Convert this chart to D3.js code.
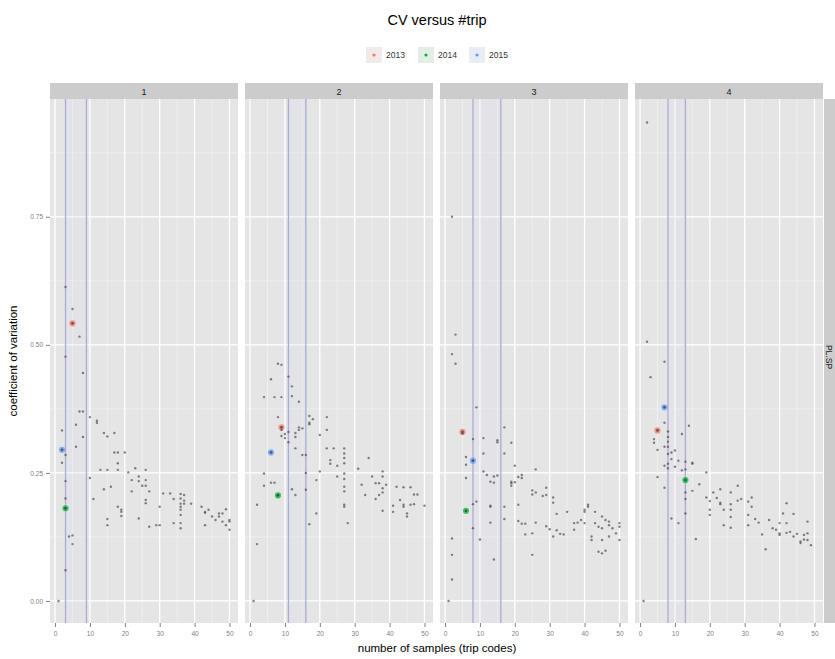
<!DOCTYPE html>
<html><head><meta charset="utf-8">
<script src="https://cdn.jsdelivr.net/npm/d3@7"></script>
<style>body{margin:0;background:#fff;}svg{display:block;font-family:"Liberation Sans",Arial,sans-serif;}</style>
</head><body>
<script>
// ---- DATA ----
const trips = ["1", "2", "3", "4"];
const years = ["2013", "2014", "2015"];
const yearColors = ["#F8766D", "#00BA38", "#619CFF"];
const xTicks = [0, 10, 20, 30, 40, 50];
const yTicks = [0, 0.25, 0.5, 0.75];
const facetRight = "PL.SP";

const pts1 = [[1,0.0],[3,0.06],[3,0.613],[5,0.57],[7,0.516],[3,0.477],[8,0.445],[7,0.37],[8,0.37],[10,0.359],[6,0.344],[12,0.348],[12,0.352],[2,0.333],[14,0.328],[15,0.321],[17,0.328],[8,0.32],[6,0.301],[3,0.285],[17,0.29],[18,0.29],[20,0.29],[18,0.269],[3,0.234],[10,0.24],[13,0.256],[15,0.256],[18,0.256],[21,0.251],[23,0.259],[26,0.256],[22,0.236],[24,0.243],[24,0.234],[14,0.218],[16,0.223],[26,0.236],[26,0.225],[25,0.225],[22,0.214],[27,0.214],[31,0.21],[33,0.21],[11,0.199],[26,0.197],[26,0.191],[34,0.199],[30,0.184],[36,0.209],[36,0.2],[37,0.196],[36,0.19],[37,0.19],[36,0.184],[36,0.178],[36,0.168],[37,0.207],[39,0.19],[18,0.184],[19,0.178],[19,0.174],[19,0.166],[15,0.16],[15,0.148],[24,0.161],[27,0.145],[29,0.148],[30,0.148],[34,0.152],[36,0.152],[36,0.142],[42,0.184],[43,0.174],[44,0.178],[43,0.172],[47,0.171],[43,0.148],[46,0.158],[47,0.165],[49,0.179],[48,0.171],[49,0.148],[50,0.158],[50,0.155],[48,0.155],[50,0.139],[45,0.165],[4,0.126],[5,0.128],[5,0.111],[3,0.2],[2,0.27]];
const pts2 = [[8,0.463],[9,0.461],[6,0.433],[11,0.438],[12,0.419],[4,0.398],[7,0.398],[9,0.398],[14,0.389],[17,0.361],[17,0.348],[17,0.345],[15,0.337],[22,0.359],[8,0.359],[9,0.334],[10,0.326],[10,0.318],[9,0.322],[11,0.33],[14,0.339],[14,0.334],[13,0.328],[13,0.32],[20,0.324],[22,0.334],[22,0.298],[24,0.298],[27,0.298],[27,0.288],[13,0.298],[15,0.285],[16,0.285],[23,0.275],[23,0.268],[25,0.264],[27,0.279],[27,0.269],[20,0.253],[31,0.258],[34,0.279],[4,0.249],[25,0.243],[27,0.238],[27,0.249],[38,0.253],[38,0.243],[35,0.243],[32,0.227],[19,0.236],[27,0.223],[27,0.214],[27,0.184],[7,0.231],[6,0.231],[36,0.23],[37,0.23],[39,0.227],[38,0.22],[38,0.212],[37,0.207],[33,0.207],[36,0.199],[4,0.225],[12,0.218],[16,0.217],[13,0.207],[8,0.207],[42,0.223],[44,0.222],[46,0.222],[48,0.208],[47,0.208],[43,0.197],[44,0.188],[41,0.186],[44,0.184],[46,0.188],[47,0.189],[50,0.186],[38,0.176],[41,0.174],[45,0.171],[45,0.165],[27,0.188],[19,0.171],[2,0.188],[28,0.152],[17,0.15],[2,0.111],[1,0.0],[16,0.25],[11,0.31],[18,0.355],[12,0.4]];
const pts3 = [[2,0.75],[3,0.52],[2,0.482],[3,0.463],[9,0.378],[17,0.339],[5,0.327],[8,0.316],[11,0.318],[15,0.314],[15,0.31],[19,0.309],[17,0.288],[11,0.288],[6,0.281],[6,0.266],[20,0.264],[26,0.257],[11,0.253],[12,0.246],[14,0.243],[15,0.245],[13,0.233],[14,0.231],[6,0.24],[19,0.233],[19,0.23],[19,0.225],[20,0.232],[22,0.246],[22,0.24],[21,0.242],[25,0.216],[25,0.208],[26,0.212],[29,0.221],[29,0.207],[28,0.205],[31,0.202],[31,0.192],[17,0.184],[21,0.188],[13,0.186],[9,0.194],[32,0.17],[35,0.174],[21,0.156],[22,0.151],[23,0.151],[23,0.13],[25,0.132],[26,0.153],[13,0.153],[13,0.184],[17,0.16],[29,0.146],[30,0.14],[32,0.138],[33,0.131],[34,0.13],[31,0.126],[37,0.152],[37,0.139],[38,0.153],[39,0.158],[40,0.178],[40,0.174],[41,0.188],[40,0.152],[41,0.184],[42,0.126],[42,0.119],[43,0.174],[43,0.152],[44,0.145],[45,0.165],[45,0.142],[46,0.158],[47,0.155],[47,0.148],[45,0.119],[47,0.126],[49,0.132],[48,0.142],[50,0.145],[50,0.152],[50,0.119],[44,0.096],[45,0.093],[46,0.098],[10,0.12],[14,0.081],[25,0.09],[2,0.122],[2,0.042],[2,0.09],[1,0.0],[8,0.142],[8,0.189]];
const pts4 = [[2,0.934],[2,0.506],[3,0.437],[7,0.467],[7,0.348],[8,0.331],[8,0.32],[8,0.311],[7,0.301],[8,0.301],[4,0.316],[4,0.309],[5,0.295],[14,0.342],[12,0.326],[10,0.294],[9,0.29],[8,0.287],[9,0.277],[8,0.268],[7,0.264],[8,0.259],[10,0.262],[11,0.274],[13,0.272],[15,0.27],[15,0.268],[13,0.257],[12,0.255],[5,0.242],[7,0.221],[15,0.215],[13,0.212],[13,0.199],[13,0.171],[19,0.251],[17,0.228],[19,0.202],[20,0.195],[21,0.212],[23,0.218],[22,0.201],[23,0.192],[23,0.189],[20,0.178],[20,0.168],[24,0.178],[24,0.148],[26,0.189],[26,0.178],[26,0.164],[26,0.143],[26,0.212],[28,0.225],[29,0.199],[28,0.196],[31,0.194],[32,0.184],[31,0.168],[31,0.148],[32,0.202],[33,0.16],[34,0.153],[35,0.13],[36,0.101],[37,0.158],[38,0.142],[39,0.139],[40,0.129],[40,0.152],[40,0.132],[41,0.171],[42,0.191],[42,0.152],[42,0.133],[43,0.135],[44,0.17],[44,0.126],[45,0.131],[46,0.116],[46,0.113],[47,0.129],[48,0.155],[48,0.132],[48,0.119],[49,0.109],[47,0.12],[9,0.161],[11,0.152],[16,0.121],[1,0.0]];
const panelPoints = [pts1, pts2, pts3, pts4];

// highlighted CV per year (order 2013, 2014, 2015) for each trip panel
const hlX = [[5, 3, 2], [9, 8, 6], [5, 6, 8], [5, 13, 7]];
const hlY = [[0.542, 0.181, 0.295], [0.339, 0.206, 0.290], [0.330, 0.176, 0.274], [0.333, 0.236, 0.378]];
// vertical reference lines per panel
const vlineA = [3, 11, 8, 8];
const vlineB = [9, 16, 16, 13];

// ---- LAYOUT ----
const W = 835, H = 659;
const pTop = 99, pBot = 623, stripTop = 83;
const pW = 188, pStep = 195, pLeft0 = 50;

const svg = d3.select("body").append("svg").attr("width", W).attr("height", H);
svg.append("rect").attr("width", W).attr("height", H).attr("fill", "#fff");

const x = d3.scaleLinear().domain([-1.45, 52.45]).range([0, pW]);
const y = d3.scaleLinear().domain([-0.043, 0.98]).range([pBot, pTop]);

// title
svg.append("text").attr("x", 437).attr("y", 25).attr("text-anchor", "middle")
  .attr("font-size", 14.5).attr("fill", "#000").text("CV versus #trip");

// legend
const legX = [366, 418, 469];
years.forEach((yr, i) => {
  const g = svg.append("g").attr("transform", `translate(${legX[i]},47)`);
  g.append("rect").attr("width", 16).attr("height", 16).attr("fill", "#F2F2F2");
  g.append("rect").attr("width", 16).attr("height", 16).attr("fill", yearColors[i]).attr("opacity", 0.06);
  g.append("circle").attr("cx", 8).attr("cy", 8).attr("r", 1.6).attr("fill", yearColors[i]);
  g.append("text").attr("x", 20).attr("y", 11).attr("font-size", 8.5).attr("fill", "#333").text(yr);
});

trips.forEach((t, i) => {
  const left = pLeft0 + i * pStep;
  const g = svg.append("g").attr("transform", `translate(${left},0)`);
  // strip
  g.append("rect").attr("x", 0).attr("y", stripTop).attr("width", pW).attr("height", pTop - stripTop).attr("fill", "#CCCCCC");
  g.append("text").attr("x", pW / 2).attr("y", stripTop + 11.5).attr("text-anchor", "middle")
    .attr("font-size", 9).attr("fill", "#1a1a1a").text(t);
  // panel bg
  g.append("rect").attr("x", 0).attr("y", pTop).attr("width", pW).attr("height", pBot - pTop).attr("fill", "#E5E5E5");
  // minor grid
  const xMinor = xTicks.slice(0, -1).map(v => v + 5);
  const yMinor = yTicks.map(v => v + 0.125);
  g.selectAll(".xmin").data(xMinor).join("line").attr("x1", d => x(d)).attr("x2", d => x(d))
    .attr("y1", pTop).attr("y2", pBot).attr("stroke", "#F2F2F2").attr("stroke-width", 0.7);
  g.selectAll(".ymin").data(yMinor).join("line").attr("x1", 0).attr("x2", pW)
    .attr("y1", d => y(d)).attr("y2", d => y(d)).attr("stroke", "#F2F2F2").attr("stroke-width", 0.7);
  // major grid
  g.selectAll(".xmaj").data(xTicks).join("line").attr("x1", d => x(d)).attr("x2", d => x(d))
    .attr("y1", pTop).attr("y2", pBot).attr("stroke", "#fff").attr("stroke-width", 1.3);
  g.selectAll(".ymaj").data(yTicks).join("line").attr("x1", 0).attr("x2", pW)
    .attr("y1", d => y(d)).attr("y2", d => y(d)).attr("stroke", "#fff").attr("stroke-width", 1.3);
  // band + vlines
  g.append("rect").attr("x", x(vlineA[i])).attr("y", pTop).attr("width", x(vlineB[i]) - x(vlineA[i]))
    .attr("height", pBot - pTop).attr("fill", "#D6D6F2").attr("opacity", 0.2);
  [vlineA[i], vlineB[i]].forEach(v => {
    g.append("line").attr("x1", x(v)).attr("x2", x(v)).attr("y1", pTop).attr("y2", pBot)
      .attr("stroke", "#ABABD8").attr("stroke-width", 1.3);
  });
  // highlighted year points
  years.forEach((yr, k) => {
    g.append("circle").attr("cx", x(hlX[i][k])).attr("cy", y(hlY[i][k])).attr("r", 3.1)
      .attr("fill", yearColors[k]).attr("opacity", 0.75);
    g.append("circle").attr("cx", x(hlX[i][k])).attr("cy", y(hlY[i][k])).attr("r", 1.4)
      .attr("fill", "#333").attr("opacity", 0.7);
  });
  // points
  g.selectAll(".pt").data(panelPoints[i]).join("circle")
    .attr("cx", d => x(d[0])).attr("cy", d => y(d[1])).attr("r", 1.2)
    .attr("fill", "#444").attr("opacity", 0.65);
  // x axis
  const ax = g.append("g").attr("transform", `translate(0,${pBot})`)
    .call(d3.axisBottom(x).tickValues(xTicks).tickSize(4).tickPadding(4));
  ax.select(".domain").remove();
  ax.selectAll("line").attr("stroke", "#808080");
  ax.selectAll("text").attr("font-size", 6.5).attr("fill", "#808080").attr("font-family", "Liberation Sans, Arial");
});

// y axis
const ay = svg.append("g").attr("transform", `translate(${pLeft0},0)`)
  .call(d3.axisLeft(y).tickValues(yTicks).tickFormat(d3.format(".2f")).tickSize(4).tickPadding(3));
ay.select(".domain").remove();
ay.selectAll("line").attr("stroke", "#808080");
ay.selectAll("text").attr("font-size", 6.5).attr("fill", "#808080").attr("font-family", "Liberation Sans, Arial");

// right strip
const rsX = pLeft0 + 3 * pStep + pW + 1;
svg.append("rect").attr("x", rsX).attr("y", pTop).attr("width", 30).attr("height", pBot - pTop).attr("fill", "#CCCCCC");
svg.append("text").attr("transform", `translate(${rsX + 2},${(pTop + pBot) / 2 - 4}) rotate(90)`)
  .attr("text-anchor", "middle").attr("font-size", 8.5).attr("fill", "#1a1a1a").text(facetRight);

// axis titles
svg.append("text").attr("x", 437).attr("y", 652).attr("text-anchor", "middle")
  .attr("font-size", 11.5).attr("fill", "#000").text("number of samples (trip codes)");
svg.append("text").attr("transform", `translate(17,${(pTop + pBot) / 2}) rotate(-90)`)
  .attr("text-anchor", "middle").attr("font-size", 11.5).attr("fill", "#000").text("coefficient of variation");
</script>
</body></html>
